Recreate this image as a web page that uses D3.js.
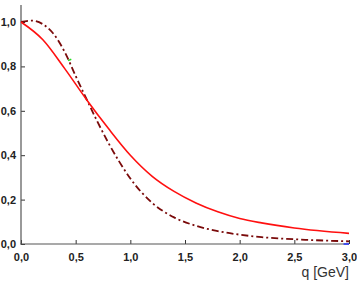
<!DOCTYPE html>
<html>
<head>
<meta charset="utf-8">
<script src="https://cdn.jsdelivr.net/npm/d3@7"></script>
<style>
  body { margin: 0; background: #fff; }
  .tick text { font-family: "Liberation Sans", Arial, sans-serif; font-weight: bold; font-size: 11px; fill: #222; }
</style>
</head>
<body>
<script>
  // data
  var xTicks = [0, 0.5, 1.0, 1.5, 2.0, 2.5, 3.0];
  var yTicks = [0, 0.2, 0.4, 0.6, 0.8, 1.0];

  // red solid curve (q, value)
  var redQ = [0, 0.2, 0.4, 0.6, 0.8, 1.0, 1.2, 1.4, 1.6, 1.8, 2.0, 2.2, 2.5, 3.0];
  var redV = [1.0, 0.92, 0.79, 0.65, 0.52, 0.40, 0.305, 0.237, 0.185, 0.145, 0.115, 0.095, 0.072, 0.048];

  // dark red dash-dot curve
  var ddQ = [0, 0.1, 0.2, 0.3, 0.4, 0.5, 0.6, 0.7, 0.8, 0.9, 1.0, 1.2, 1.4, 1.6, 1.8, 2.0, 2.2, 2.6, 3.0];
  var ddV = [1.0, 1.006, 0.99, 0.945, 0.865, 0.757, 0.652, 0.55, 0.455, 0.37, 0.295, 0.185, 0.12, 0.082, 0.058, 0.042, 0.031, 0.019, 0.012];

  // small stray marks
  var greenQ = [0.43, 0.46], greenV = [0.826, 0.832];
  var blueQ = [2.95, 3.0], blueV = [0.0, 0.0];

  var svg = d3.select("body").append("svg")
    .attr("width", 357)
    .attr("height", 282);

  var x = d3.scaleLinear().domain([0, 3]).range([21, 349]);
  var y = d3.scaleLinear().domain([0, 1]).range([244, 22]);

  var fmt = function(d) { return d3.format(".1f")(d).replace(".", ","); };

  // axes
  var xAxis = svg.append("g").attr("transform", "translate(0,244)")
    .call(d3.axisBottom(x).tickValues(xTicks).tickSize(-4).tickPadding(9).tickFormat(fmt));
  var yAxis = svg.append("g").attr("transform", "translate(21,0)")
    .call(d3.axisLeft(y).tickValues(yTicks).tickSize(-4).tickPadding(5).tickFormat(fmt));

  xAxis.select(".domain").remove();
  yAxis.select(".domain").remove();
  svg.selectAll(".tick line").attr("stroke", "#333");

  svg.append("line").attr("x1", 21).attr("x2", 21).attr("y1", y(1.077)).attr("y2", 244.5)
    .attr("stroke", "#555").attr("stroke-width", 1.2);
  svg.append("line").attr("x1", 20.5).attr("x2", 349).attr("y1", 244).attr("y2", 244)
    .attr("stroke", "#555").attr("stroke-width", 1.2);

  var line = d3.line()
    .x(function(d) { return x(d[0]); })
    .y(function(d) { return y(d[1]); })
    .curve(d3.curveMonotoneX);

  svg.append("path")
    .attr("d", line(d3.zip(ddQ, ddV)))
    .attr("fill", "none")
    .attr("stroke", "#7a0a0a")
    .attr("stroke-width", 1.8)
    .attr("stroke-dasharray", "7,3,2,3");

  svg.append("path")
    .attr("d", line(d3.zip(redQ, redV)))
    .attr("fill", "none")
    .attr("stroke", "#ff1010")
    .attr("stroke-width", 1.6);

  var seg = d3.line().x(function(d) { return x(d[0]); }).y(function(d) { return y(d[1]); });

  svg.append("path")
    .attr("d", seg(d3.zip(greenQ, greenV)))
    .attr("stroke", "#22dd22").attr("stroke-width", 1.5);

  svg.append("path")
    .attr("d", seg(d3.zip(blueQ, blueV)))
    .attr("stroke", "#2233ff").attr("stroke-width", 1.5);

  svg.append("text")
    .attr("x", 349).attr("y", 277)
    .attr("text-anchor", "end")
    .attr("font-family", "Liberation Sans, Arial, sans-serif")
    .attr("font-size", 14)
    .attr("fill", "#333")
    .text("q [GeV]");
</script>
</body>
</html>
